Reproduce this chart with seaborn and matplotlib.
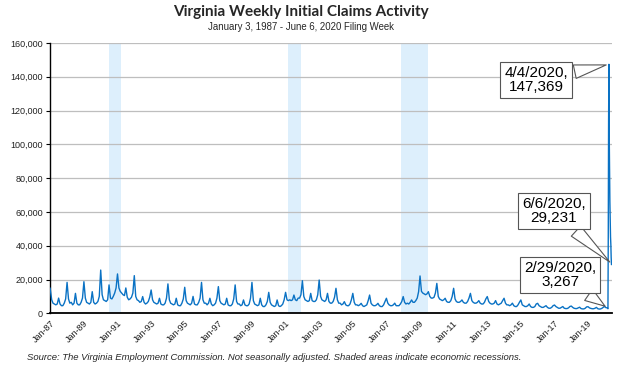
import matplotlib
matplotlib.use("Agg")
import matplotlib.pyplot as plt
import matplotlib.dates as mdates
import matplotlib.ticker as mticker
import seaborn as sns
import pandas as pd

# ---- data (monthly readings, first week of each month, Jan..Dec) ----
claims_1987_1996 = [
    15000, 8000, 6000, 5500, 5000, 5500, 9000, 5500, 4500, 4500, 6000, 8500,     # 1987
    18300, 8500, 6000, 6500, 5000, 6000, 11800, 6000, 5000, 5000, 6500, 9000,    # 1988
    18700, 9000, 6500, 6000, 5500, 6500, 12800, 6500, 5500, 6000, 7000, 10000,   # 1989
    25600, 11000, 8000, 7500, 7000, 8000, 16800, 9000, 8500, 10000, 12000, 15000,  # 1990
    23300, 15000, 13000, 12000, 11000, 10500, 15000, 9500, 8000, 8500, 9500, 12000,  # 1991
    22300, 10000, 8000, 7500, 6500, 7000, 9900, 6500, 5500, 6000, 7000, 9500,    # 1992
    13800, 8000, 6500, 6000, 5500, 6000, 8900, 5500, 5000, 5000, 6000, 9000,     # 1993
    17400, 8000, 6000, 5500, 5000, 5500, 8900, 5000, 4500, 4500, 6000, 8500,     # 1994
    15400, 7500, 6000, 5500, 5000, 6000, 10000, 5500, 5000, 5000, 6500, 9000,    # 1995
    18300, 8000, 6000, 6000, 5000, 6000, 8900, 5500, 4500, 5000, 6000, 9000,     # 1996
]
claims_1997_2006 = [
    15800, 7500, 6000, 5500, 5000, 5500, 8900, 5000, 4500, 4500, 5500, 8500,     # 1997
    16800, 7000, 5500, 5500, 4500, 5000, 7900, 5000, 4500, 4500, 5500, 9000,     # 1998
    18300, 7500, 5500, 5000, 4500, 5000, 8900, 5000, 4000, 4000, 5000, 7000,     # 1999
    12400, 6500, 5000, 4500, 4000, 4500, 7900, 4500, 4000, 4500, 5500, 8000,     # 2000
    12400, 8000, 7500, 8000, 7500, 8000, 10800, 8000, 7500, 9000, 9000, 11000,   # 2001
    19300, 10000, 8000, 7500, 7000, 7500, 11800, 7500, 7000, 7000, 8000, 11000,  # 2002
    19700, 10000, 8000, 7500, 7000, 8000, 11800, 7000, 6000, 6000, 7000, 9500,   # 2003
    14800, 8000, 6000, 6000, 5000, 5500, 6900, 5000, 4500, 4500, 5500, 8000,     # 2004
    11800, 6500, 5000, 5000, 4500, 5000, 5900, 4500, 4000, 4500, 5000, 7500,     # 2005
    10800, 6000, 5000, 4500, 4500, 5000, 5900, 4500, 4000, 4000, 5000, 7000,     # 2006
]
claims_2007_2016 = [
    8900, 6000, 5000, 4500, 4500, 5000, 6000, 4500, 4500, 4500, 5500, 7000,      # 2007
    9900, 6500, 5500, 6000, 5500, 6500, 7900, 6500, 6500, 7500, 9000, 12800,     # 2008
    22100, 13000, 12000, 11500, 11000, 11500, 12800, 10000, 9000, 9000, 9500, 12000,  # 2009
    17700, 10000, 8500, 8000, 7500, 8000, 8900, 7000, 6500, 6500, 7500, 10000,   # 2010
    14800, 8500, 7000, 6500, 6500, 7000, 7900, 6500, 6000, 6000, 7000, 9000,     # 2011
    11800, 7500, 6500, 6000, 6000, 6500, 7500, 6000, 5500, 5500, 6500, 8500,     # 2012
    9900, 7000, 6000, 5500, 5500, 6000, 7500, 5500, 5000, 5500, 6000, 7500,      # 2013
    8900, 6000, 5000, 5000, 4500, 5000, 6000, 4500, 4000, 4000, 5000, 6500,      # 2014
    7900, 5000, 4500, 4000, 4000, 4500, 5500, 4000, 3500, 3500, 4000, 5500,      # 2015
    5900, 4500, 4000, 3500, 3500, 4000, 4500, 3500, 3000, 3000, 3500, 4500,      # 2016
]
claims_2017_2019 = [
    4900, 4000, 3500, 3000, 3000, 3500, 4000, 3000, 2800, 2800, 3200, 4000,      # 2017
    4300, 3500, 3000, 2800, 2800, 3200, 3600, 2800, 2600, 2600, 3000, 3800,      # 2018
    3900, 3200, 2900, 2700, 2700, 3000, 3500, 2700, 2500, 2600, 3000, 3600,      # 2019
]
weeks_2020 = ["2020-01-04", "2020-01-11", "2020-02-01", "2020-02-29", "2020-03-14",
              "2020-03-21", "2020-03-28", "2020-04-04", "2020-04-11", "2020-04-18",
              "2020-04-25", "2020-05-02", "2020-05-09", "2020-05-16", "2020-05-23",
              "2020-05-30", "2020-06-06"]
claims_2020 = [4200, 3800, 3300, 3267, 2706, 46277, 114104, 147369, 104740, 84291,
               66087, 53865, 45118, 40685, 32981, 28806, 29231]

recessions = [("1990-07-01", "1991-03-31"), ("2001-03-01", "2001-11-30"),
              ("2007-12-01", "2009-06-30")]
tick_years = list(range(1987, 2020, 2))
callouts = [("4/4/2020,\n147,369", "2020-04-04", 147369),
            ("6/6/2020,\n29,231", "2020-06-06", 29231),
            ("2/29/2020,\n3,267", "2020-02-29", 3267)]

# ---- build frame ----
monthly = claims_1987_1996 + claims_1997_2006 + claims_2007_2016 + claims_2017_2019
monthly_dates = pd.date_range("1987-01-01", periods=len(monthly), freq="MS") + pd.Timedelta(days=6)
monthly_dates = monthly_dates.insert(0, pd.Timestamp("1987-01-03"))
monthly_dates = monthly_dates.delete(1)
df = pd.DataFrame({
    "date": list(monthly_dates) + list(pd.to_datetime(weeks_2020)),
    "claims": monthly + claims_2020,
})

sns.set_theme(style="white")
plt.rcParams["font.family"] = ["Liberation Sans", "DejaVu Sans"]

fig = plt.figure(figsize=(6.28, 3.70), dpi=100)
ax = fig.add_axes([50 / 628, 1 - 313.3 / 370, 562 / 628, (313.3 - 43) / 370])

for s, e in recessions:
    ax.axvspan(pd.Timestamp(s), pd.Timestamp(e), color="#DDEFFC", lw=0, zorder=0)

sns.lineplot(data=df, x="date", y="claims", ax=ax, color="#0A72C4", linewidth=1.0, zorder=3)

ax.set_ylim(0, 160000)
ax.set_xlim(pd.Timestamp("1987-01-03"), pd.Timestamp("2020-06-10"))
ax.yaxis.set_major_locator(mticker.MultipleLocator(20000))
ax.yaxis.set_major_formatter(mticker.FuncFormatter(lambda v, p: f"{int(v):,}"))
ax.grid(axis="y", color="#BEBEBE", linewidth=0.9, zorder=1)
ax.set_axisbelow(True)

ax.set_xticks([pd.Timestamp(f"{y}-01-01") for y in tick_years])
ax.xaxis.set_major_formatter(mdates.DateFormatter("%b-%y"))
for lab in ax.get_xticklabels():
    lab.set_rotation(45)
    lab.set_ha("right")
    lab.set_rotation_mode("anchor")
ax.tick_params(axis="x", labelsize=6.5, length=0, pad=4, colors="#222222")
ax.tick_params(axis="y", labelsize=6.5, length=3, width=0.8, direction="out", left=True,
               colors="#222222", pad=2)
ax.tick_params(axis="y", color="black")
ax.set_xlabel("")
ax.set_ylabel("")
for sp in ["top", "right"]:
    ax.spines[sp].set_visible(False)
ax.spines["left"].set_color("black")
ax.spines["left"].set_linewidth(1.0)
ax.spines["bottom"].set_color("black")
ax.spines["bottom"].set_linewidth(1.3)

text_pos = [(536, 290), (554, 159), (560, 95)]
for (label, d, v), (tx, ty) in zip(callouts, text_pos):
    ax.annotate(label, xy=(pd.Timestamp(d), v), xycoords="data",
                xytext=(tx, ty), textcoords="figure pixels",
                ha="center", va="center", fontsize=11, color="black",
                bbox=dict(boxstyle="square,pad=0.25", fc="white", ec="#555555", lw=0.8),
                arrowprops=dict(arrowstyle="wedge,tail_width=0.9,shrink_factor=0.5",
                                fc="white", ec="#555555", lw=0.8),
                zorder=5, linespacing=1.0)

fig.text(301 / 628, 1 - 12 / 370, "Virginia Weekly Initial Claims Activity",
         ha="center", va="center", fontsize=11, fontweight="bold",
         family=["Lato", "DejaVu Sans"])
fig.text(301 / 628, 1 - 27 / 370, "January 3, 1987 - June 6, 2020 Filing Week",
         ha="center", va="center", fontsize=6.9,
         family=["Liberation Sans Narrow", "Liberation Sans", "DejaVu Sans"])
fig.text(274 / 628, 1 - 358 / 370,
         "Source: The Virginia Employment Commission. Not seasonally adjusted. "
         "Shaded areas indicate economic recessions.",
         ha="center", va="center", fontsize=6.8, style="italic")

fig.savefig("out.png", dpi=100)
